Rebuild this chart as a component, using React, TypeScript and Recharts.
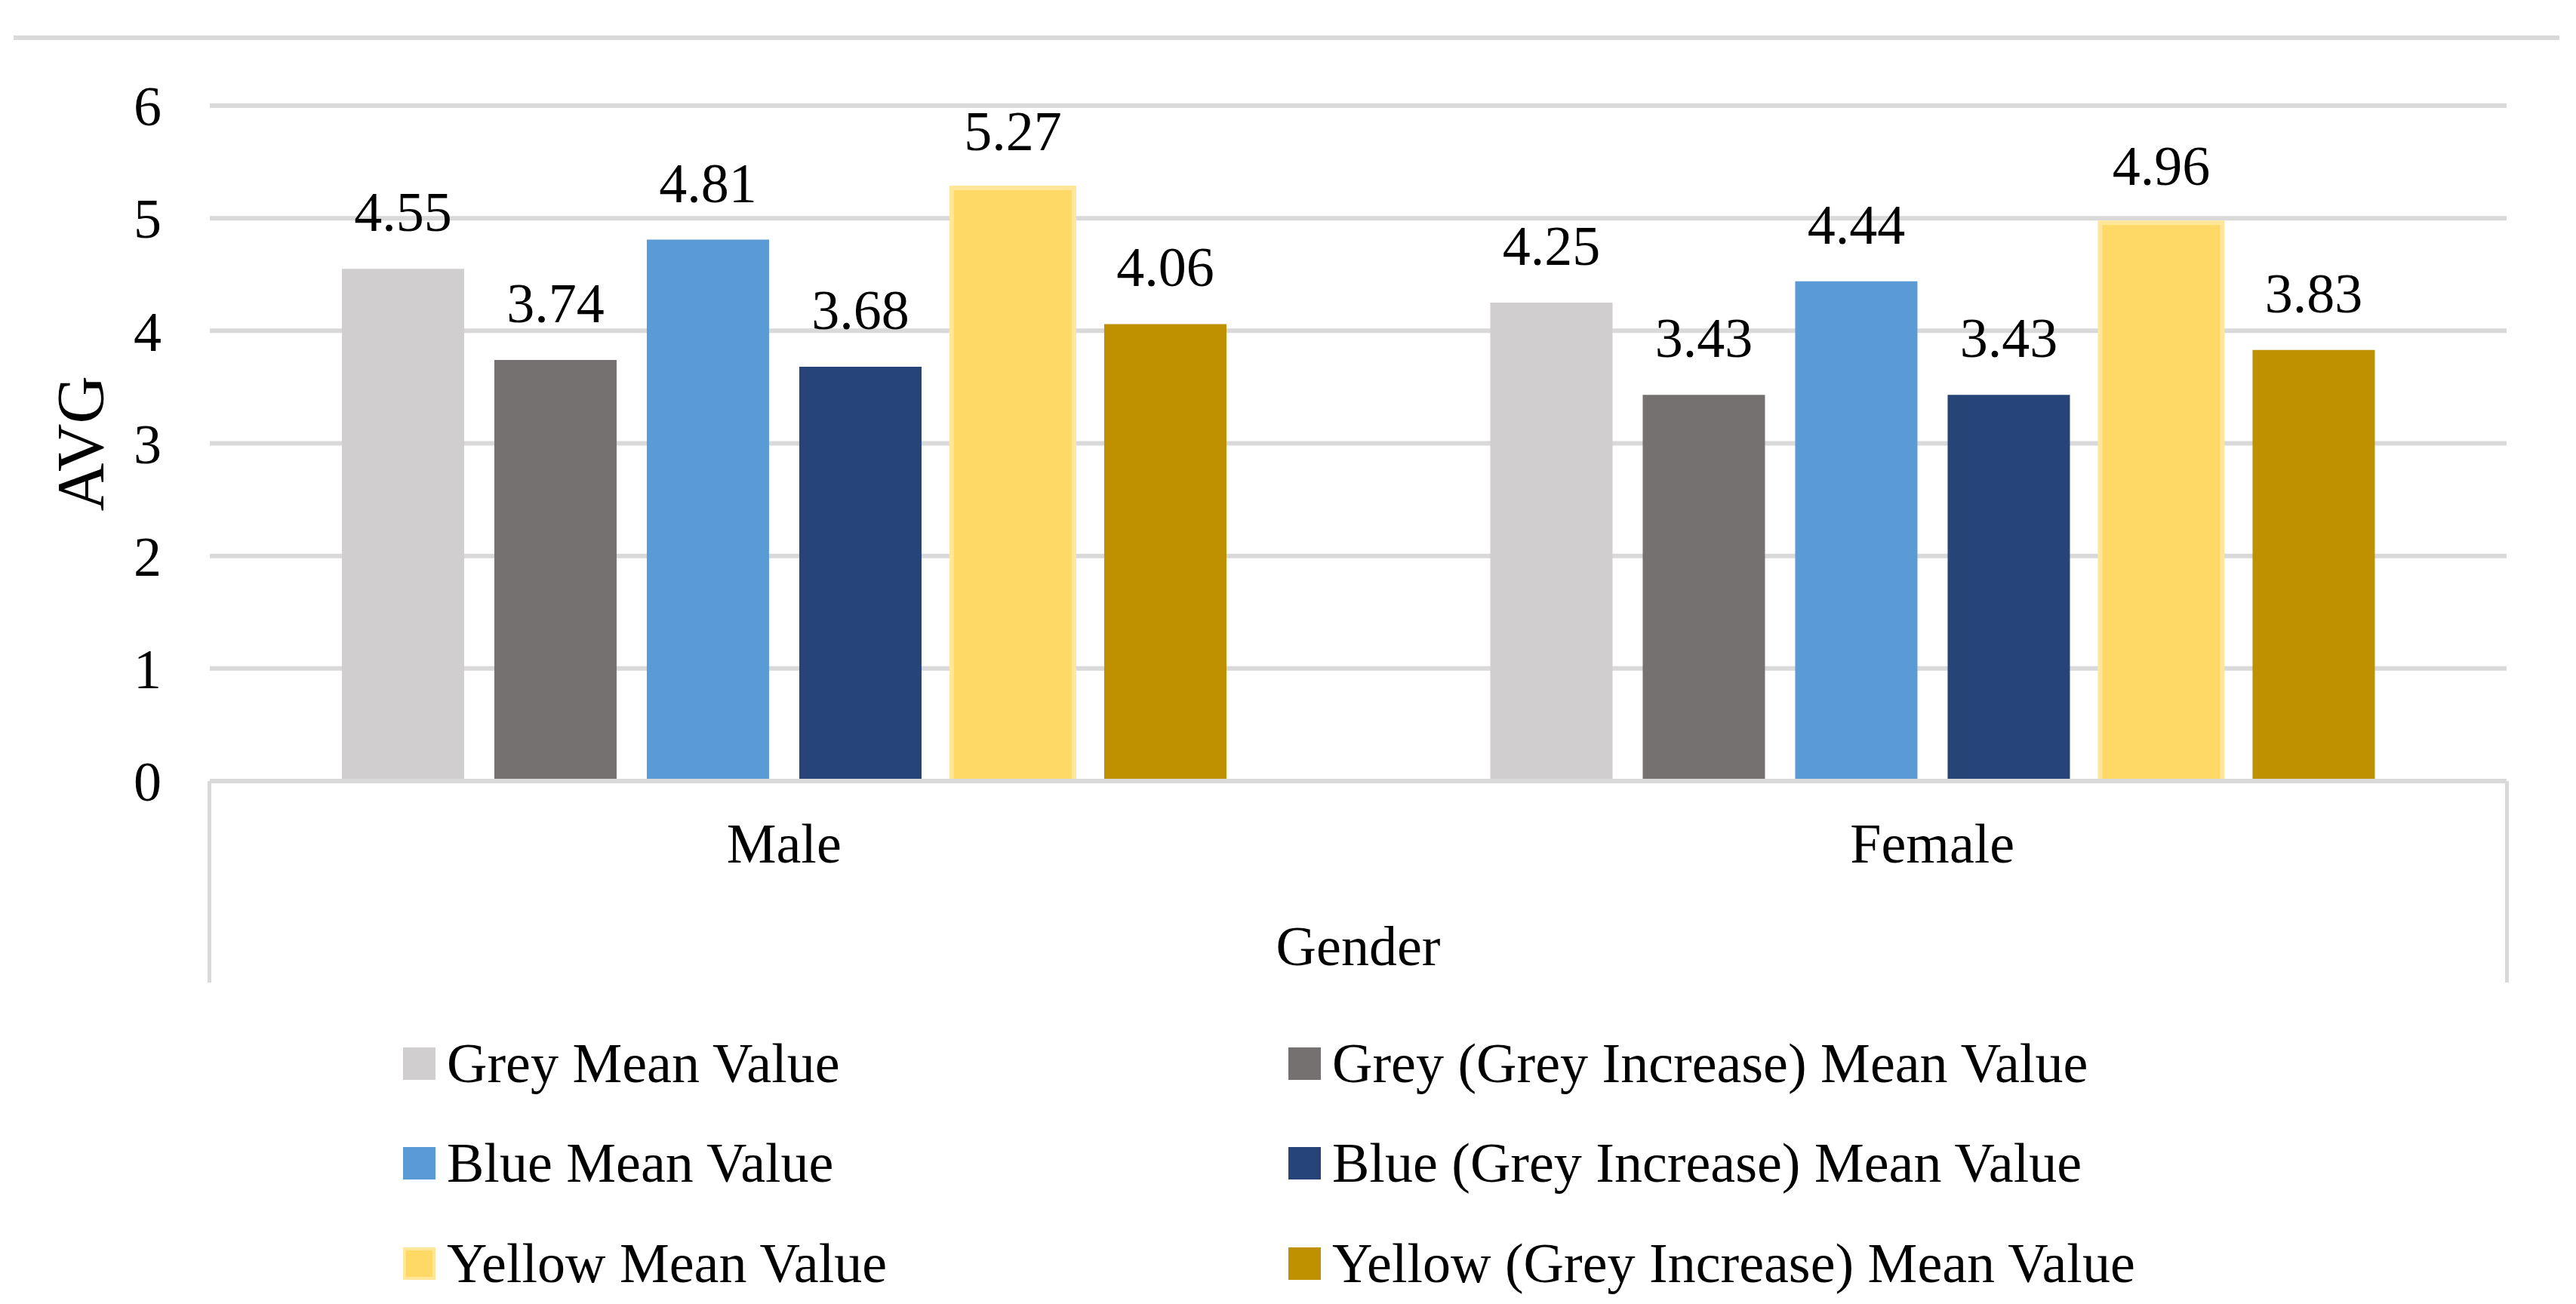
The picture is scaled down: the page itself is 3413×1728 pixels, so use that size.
import React from 'react';
import { BarChart, Bar, XAxis, YAxis, CartesianGrid, LabelList, Label, Legend } from 'recharts';

const categories = ['Male', 'Female'];
const greyMean = [4.55, 4.25];
const greyIncMean = [3.74, 3.43];
const blueMean = [4.81, 4.44];
const blueIncMean = [3.68, 3.43];
const yellowMean = [5.27, 4.96];
const yellowIncMean = [4.06, 3.83];
const yTicks = [0, 1, 2, 3, 4, 5, 6];

const seriesKeys = ['grey', 'greyInc', 'blue', 'blueInc', 'yellow', 'yellowInc'];
const seriesNames = [
  'Grey Mean Value',
  'Grey (Grey Increase) Mean Value',
  'Blue Mean Value',
  'Blue (Grey Increase) Mean Value',
  'Yellow Mean Value',
  'Yellow (Grey Increase) Mean Value',
];
const seriesFills = ['#D0CECE', '#767171', '#5B9BD5', '#264478', '#FFD966', '#BF9000'];
const seriesStrokes = ['none', 'none', 'none', 'none', '#FFE699', 'none'];
const seriesValues = [greyMean, greyIncMean, blueMean, blueIncMean, yellowMean, yellowIncMean];

const data = categories.map((c, i) => {
  const row: Record<string, string | number> = { gender: c };
  seriesKeys.forEach((k, s) => {
    row[k] = seriesValues[s][i];
  });
  return row;
});

const FONT = '"Liberation Serif", "Times New Roman", serif';
const GRID = '#D9D9D9';

const legendCols = [534, 1707];
const legendRows = [69, 201, 334];

const renderLegend = (props: any) => {
  const payload = props.payload || [];
  const ordered = seriesNames.map((name, s) => {
    const found = payload.find((e: any) => e.value === name);
    return { name, fill: seriesFills[s] || (found && found.color), stroke: seriesStrokes[s] };
  });
  return (
    <div style={{ position: 'relative', width: 3413, height: 400 }}>
      {ordered.map((entry, i) => {
        const col = i % 2;
        const row = Math.floor(i / 2);
        return (
          <div
            key={i}
            style={{
              position: 'absolute',
              left: legendCols[col],
              top: legendRows[row] - 50,
              height: 100,
              display: 'flex',
              alignItems: 'center',
              whiteSpace: 'nowrap',
              fontFamily: FONT,
              fontSize: 74,
              color: '#000',
            }}
          >
            <span
              style={{
                display: 'inline-block',
                width: 43,
                height: 43,
                boxSizing: 'border-box',
                background: entry.fill,
                border: entry.stroke !== 'none' ? `4px solid ${entry.stroke}` : 'none',
                marginRight: 15,
              }}
            />
            <span>{entry.name}</span>
          </div>
        );
      })}
    </div>
  );
};

export default function App() {
  return (
    <div style={{ position: 'absolute', left: 0, top: 0, width: 3413, height: 1728, background: '#fff', overflow: 'hidden' }}>
      <BarChart
        width={3413}
        height={1728}
        data={data}
        margin={{ top: 140, right: 92, left: 0, bottom: 426 }}
        barCategoryGap="11.5%"
        barGap={40}
      >
        <CartesianGrid horizontal vertical={false} stroke={GRID} strokeWidth={6} />
        <YAxis
          type="number"
          domain={[0, 6]}
          ticks={yTicks}
          width={278}
          axisLine={false}
          tickLine={false}
          tickSize={0}
          tickMargin={64}
          tick={{ fontSize: 74, fill: '#000', fontFamily: FONT }}
          label={(p: any) => {
            const vb = p.viewBox || { x: 0, y: 140, width: 278, height: 895 };
            const cx = vb.x + 136;
            const cy = vb.y + vb.height / 2;
            return (
              <text
                x={cx}
                y={cy}
                textAnchor="middle"
                transform={`rotate(-90, ${cx}, ${cy})`}
                fontSize={88}
                fontFamily={FONT}
                fill="#000"
              >
                AVG
              </text>
            );
          }}
        />
        <XAxis
          dataKey="gender"
          height={267}
          interval={0}
          axisLine={{ stroke: GRID, strokeWidth: 6 }}
          tickLine={false}
          tickSize={0}
          tickMargin={55}
          tick={{ fontSize: 74, fill: '#000', fontFamily: FONT }}
        >
          <Label value="Gender" position="insideBottom" offset={23} fontSize={74} fontFamily={FONT} fill="#000" />
        </XAxis>
        <Legend
          layout="horizontal"
          verticalAlign="middle"
          align="center"
          wrapperStyle={{ left: 0, top: 1340, width: 3413, height: 400 }}
          content={renderLegend}
        />
        {seriesKeys.map((k, s) => (
          <Bar
            key={k}
            dataKey={k}
            name={seriesNames[s]}
            fill={seriesFills[s]}
            stroke={seriesStrokes[s]}
            strokeWidth={seriesStrokes[s] !== 'none' ? 6 : 0}
            isAnimationActive={false}
          >
            <LabelList dataKey={k} position="top" offset={50} fontSize={74} fontFamily={FONT} fill="#000" />
          </Bar>
        ))}
      </BarChart>
      <div style={{ position: 'absolute', left: 18, top: 47, width: 3373, height: 6, background: GRID }} />
      <div style={{ position: 'absolute', left: 275, top: 1035, width: 5, height: 267, background: GRID }} />
      <div style={{ position: 'absolute', left: 3319, top: 1035, width: 5, height: 267, background: GRID }} />
    </div>
  );
}
